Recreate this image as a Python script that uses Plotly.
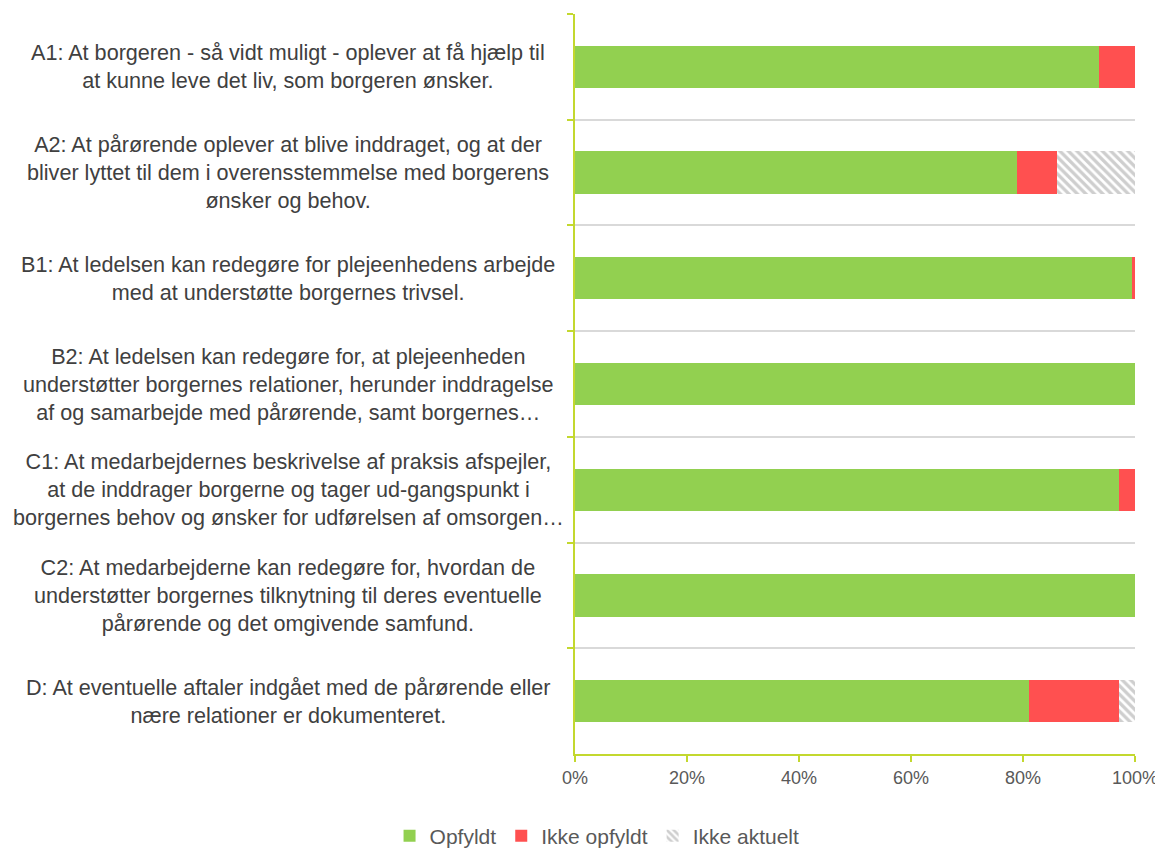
import plotly.graph_objects as go

categories = [
    "A1: At borgeren - så vidt muligt - oplever at få hjælp til<br>at kunne leve det liv, som borgeren ønsker.",
    "A2: At pårørende oplever at blive inddraget, og at der<br>bliver lyttet til dem i overensstemmelse med borgerens<br>ønsker og behov.",
    "B1: At ledelsen kan redegøre for plejeenhedens arbejde<br>med at understøtte borgernes trivsel.",
    "B2: At ledelsen kan redegøre for, at plejeenheden<br>understøtter borgernes relationer, herunder inddragelse<br>af og samarbejde med pårørende, samt borgernes…",
    "C1: At medarbejdernes beskrivelse af praksis afspejler,<br>at de inddrager borgerne og tager ud-gangspunkt i<br>borgernes behov og ønsker for udførelsen af omsorgen…",
    "C2: At medarbejderne kan redegøre for, hvordan de<br>understøtter borgernes tilknytning til deres eventuelle<br>pårørende og det omgivende samfund.",
    "D: At eventuelle aftaler indgået med de pårørende eller<br>nære relationer er dokumenteret.",
]
opfyldt = [0.936, 0.789, 0.994, 1.0, 0.971, 1.0, 0.811]
ikke_opfyldt = [0.064, 0.072, 0.006, 0.0, 0.029, 0.0, 0.160]
ikke_aktuelt = [0.0, 0.139, 0.0, 0.0, 0.0, 0.0, 0.029]

keys = ["A1", "A2", "B1", "B2", "C1", "C2", "D"]

FONT = "Liberation Sans, Arial, sans-serif"

fig = go.Figure()
fig.add_trace(go.Bar(y=keys, x=opfyldt, orientation="h", name="Opfyldt",
                     marker=dict(color="#92D050", line=dict(width=0))))
fig.add_trace(go.Bar(y=keys, x=ikke_opfyldt, orientation="h", name="Ikke opfyldt",
                     marker=dict(color="#FF5050", line=dict(width=0))))
fig.add_trace(go.Bar(y=keys, x=ikke_aktuelt, orientation="h", name="Ikke aktuelt",
                     marker=dict(color="white", line=dict(width=0),
                                 pattern=dict(shape="\\", fgcolor="#9E9E9E", bgcolor="white",
                                              size=6, solidity=0.55, fillmode="overlay"))))

for k, c in zip(keys, categories):
    fig.add_annotation(x=-0.512, xref="paper", y=k, yref="y", text=c,
                       showarrow=False, xanchor="center", yanchor="middle", align="center",
                       font=dict(family=FONT, size=21.6, color="#404040"))

fig.update_layout(
    barmode="stack",
    bargap=0.6,
    width=1155, height=842,
    margin=dict(l=567, r=28, t=6, b=96, autoexpand=False),
    plot_bgcolor="white", paper_bgcolor="white",
    font=dict(family=FONT, size=19, color="#595959"),
    legend=dict(orientation="h", x=0.51, xref="container", xanchor="center",
                y=-0.111, yref="paper", yanchor="middle",
                font=dict(size=21, color="#595959"), traceorder="normal",
                itemwidth=30),
    xaxis=dict(range=[0, 1], tickformat=".0%", tickvals=[0, 0.2, 0.4, 0.6, 0.8, 1.0],
               showgrid=False, zeroline=False, showline=True, linecolor="#C3D82F", linewidth=2,
               ticks="outside", tickcolor="#C3D82F", ticklen=6, tickwidth=2, automargin=False,
               tickfont=dict(size=18, color="#595959")),
    yaxis=dict(categoryorder="array", categoryarray=keys, autorange="reversed",
               tickson="boundaries", showticklabels=False, showgrid=True, gridcolor="#D9D9D9",
               gridwidth=1.5, showline=True, linecolor="#C3D82F", linewidth=2, automargin=False,
               ticks="outside", tickcolor="#C3D82F", ticklen=6, tickwidth=2, zeroline=False),
)

fig.write_html("out.html")
